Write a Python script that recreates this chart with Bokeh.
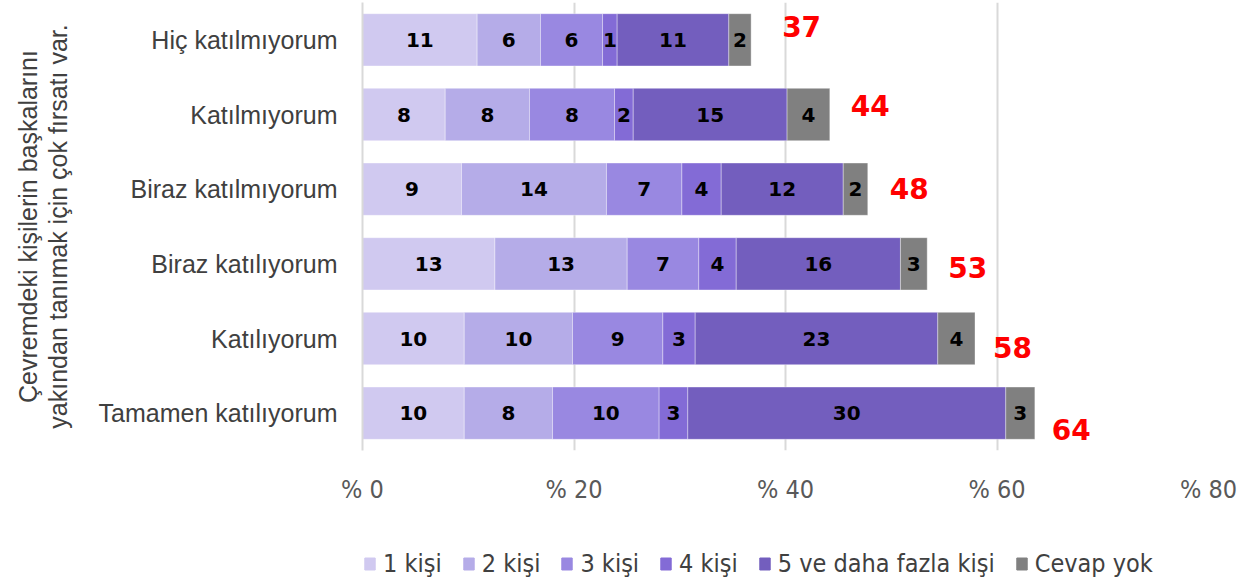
import numpy as np
from bokeh.plotting import figure
from bokeh.layouts import column
from bokeh.models import FactorRange, Range1d, Legend, LegendItem, ColumnDataSource, FixedTicker
from bokeh.core.properties import value
from bokeh.embed import file_html
from bokeh.resources import INLINE

# ---- data ----
categories = ["Hiç katılmıyorum", "Katılmıyorum", "Biraz katılmıyorum",
              "Biraz katılıyorum", "Katılıyorum", "Tamamen katılıyorum"]
series_names = ["1 kişi", "2 kişi", "3 kişi", "4 kişi", "5 ve daha fazla kişi", "Cevap yok"]
one_person = [10.84, 7.82, 9.36, 12.52, 9.62, 9.62]
two_people = [5.99, 7.97, 13.71, 12.51, 10.24, 8.35]
three_people = [5.87, 8.04, 7.13, 6.77, 8.54, 10.08]
four_people = [1.38, 1.77, 3.72, 3.54, 3.06, 2.71]
five_plus = [10.56, 14.55, 11.54, 15.53, 22.94, 30.07]
no_answer = [2.11, 4.04, 2.32, 2.53, 3.52, 2.75]
ticks = [0, 20, 40, 60, 80]
tick_labels = ["% 0", "% 20", "% 40", "% 60", "% 80"]
axis_title = "Çevremdeki kişilerin başkalarını\nyakından tanımak için çok fırsatı var."

# ---- style ----
colors = ["#D0C9F0", "#B5ACE8", "#9988E1", "#836BD6", "#735EBE", "#808080"]
total_dx = [31, 21, 22, 21, 18, 17]
total_dy = [-13, -9, -1, 4, 9, 16]

series = [one_person, two_people, three_people, four_people, five_plus, no_answer]
keys = ["s%d" % i for i in range(len(series))]
data = {"cat": categories}
for k, s in zip(keys, series):
    data[k] = s
source = ColumnDataSource(data)

p = figure(width=1248, height=510,
           y_range=FactorRange(*reversed(categories)), x_range=Range1d(0, 80),
           output_backend="svg", toolbar_location=None,
           min_border_left=362, min_border_right=40, min_border_top=2, min_border_bottom=60)

rs = p.hbar_stack(keys, y="cat", height=0.7, color=colors, source=source,
                  line_color="white", line_width=0.6, line_alpha=0.6)

# segment labels
arr = np.array(series, dtype=float)
cum = np.cumsum(arr, axis=0)
centers = cum - arr / 2
lx, ly, lt = [], [], []
for i in range(arr.shape[0]):
    for j in range(arr.shape[1]):
        lx.append(centers[i, j]); ly.append(categories[j]); lt.append("%d" % round(arr[i, j]))
p.text(x="x", y="y", text="t", source=ColumnDataSource(dict(x=lx, y=ly, t=lt)),
       text_align="center", text_baseline="middle", text_font=value("DejaVu Sans"),
       text_font_style="bold", text_font_size="20px", text_color="black")

# totals
totals = cum[-1]
p.text(x="x", y="y", text="t", x_offset="dx", y_offset="dy",
       source=ColumnDataSource(dict(x=list(totals), y=categories,
                                    t=["%d" % round(v) for v in totals],
                                    dx=total_dx, dy=total_dy)),
       text_align="left", text_baseline="middle", text_font=value("DejaVu Sans"),
       text_font_style="bold", text_font_size="28px", text_color="#FF0000")

# axes
p.xaxis.ticker = FixedTicker(ticks=ticks)
p.xaxis.major_label_overrides = {t: l for t, l in zip(ticks, tick_labels)}
p.xaxis.axis_line_color = None
p.xaxis.major_tick_line_color = None
p.xaxis.minor_tick_line_color = None
p.xaxis.major_label_standoff = 18
p.xaxis.major_label_text_font = "DejaVu Sans Condensed"
p.xaxis.major_label_text_font_size = "25px"
p.xaxis.major_label_text_color = "#595959"

p.yaxis.axis_line_color = "#d9d9d9"
p.yaxis.axis_line_width = 2
p.yaxis.major_tick_line_color = None
p.yaxis.major_label_standoff = 19
p.yaxis.major_label_text_font = "Liberation Sans"
p.yaxis.major_label_text_font_size = "25px"
p.yaxis.major_label_text_color = "#404040"
p.yaxis.axis_label = axis_title
p.yaxis.axis_label_text_font = "Liberation Sans"
p.yaxis.axis_label_text_font_style = "normal"
p.yaxis.axis_label_text_font_size = "25px"
p.yaxis.axis_label_text_line_height = 1.05
p.yaxis.axis_label_text_color = "#404040"
p.yaxis.axis_label_standoff = 24

p.xgrid.grid_line_color = "#d9d9d9"
p.xgrid.grid_line_width = 2
p.ygrid.grid_line_color = None
p.outline_line_color = None

# legend strip below the chart (its frame is aligned with the chart's frame)
pl = figure(width=1248, height=68, output_backend="svg", toolbar_location=None,
            x_axis_type=None, y_axis_type=None, min_border=0,
            x_range=Range1d(0, 1), y_range=Range1d(0, 1))
pl.grid.grid_line_color = None
pl.outline_line_color = None
legend_renderers = [pl.vbar(x=[0.5], top=[-5], bottom=[-6], width=0.1, color=c) for c in colors]
legend = Legend(items=[LegendItem(label=n, renderers=[r]) for n, r in zip(series_names, legend_renderers)],
                orientation="horizontal", location=(1, 0),
                label_text_font="DejaVu Sans Condensed", label_text_font_size="25px",
                label_text_color="#404040", glyph_width=13, glyph_height=15,
                spacing=20, label_standoff=7, border_line_color=None,
                background_fill_alpha=0, margin=0, padding=2)
pl.add_layout(legend)

layout = column(p, pl, spacing=0)
open("out.html", "w").write(file_html(layout, INLINE))
